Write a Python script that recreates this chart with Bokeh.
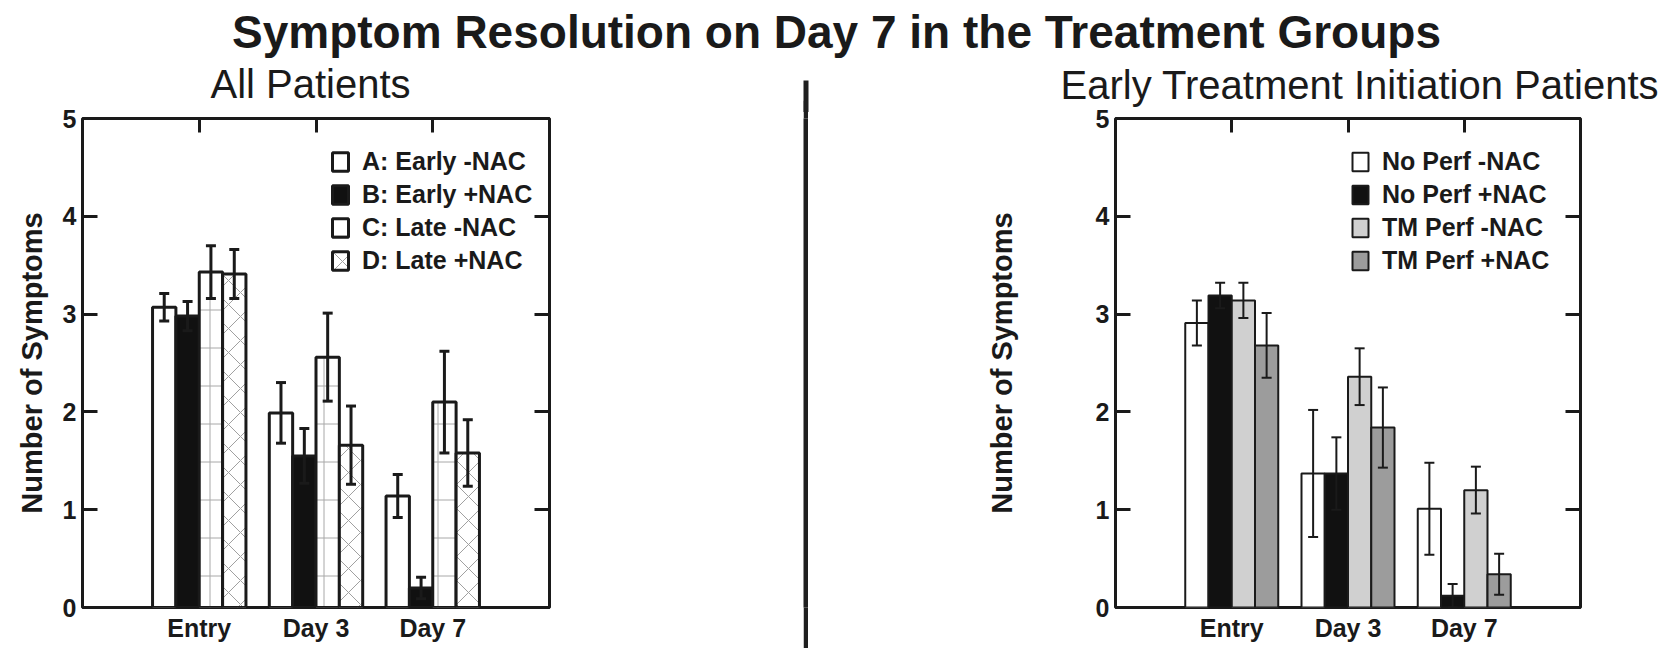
from bokeh.plotting import figure
from bokeh.models import (Range1d, LinearAxis, FixedTicker, Label, Legend, LegendItem,
                          Whisker, TeeHead, ColumnDataSource)
from bokeh.layouts import column, row
from bokeh.embed import file_html
from bokeh.resources import INLINE

# ---------------- data ----------------
TITLE = "Symptom Resolution on Day 7 in the Treatment Groups"
SUBTITLE_LEFT = "All Patients"
SUBTITLE_RIGHT = "Early Treatment Initiation Patients"
Y_LABEL = "Number of Symptoms"
categories = ["Entry", "Day 3", "Day 7"]
y_ticks = [0, 1, 2, 3, 4, 5]

left_series = ["A: Early -NAC", "B: Early +NAC", "C: Late -NAC", "D: Late +NAC"]
left_a = [3.07, 1.99, 1.14]
left_a_err = [0.14, 0.31, 0.22]
left_b = [2.98, 1.55, 0.20]
left_b_err = [0.15, 0.28, 0.11]
left_c = [3.43, 2.56, 2.10]
left_c_err = [0.27, 0.45, 0.52]
left_d = [3.41, 1.66, 1.58]
left_d_err = [0.25, 0.40, 0.34]

right_series = ["No Perf -NAC", "No Perf +NAC", "TM Perf -NAC", "TM Perf +NAC"]
right_a = [2.91, 1.37, 1.01]
right_a_err = [0.23, 0.65, 0.47]
right_b = [3.19, 1.37, 0.12]
right_b_err = [0.13, 0.37, 0.12]
right_c = [3.14, 2.36, 1.20]
right_c_err = [0.18, 0.29, 0.24]
right_d = [2.68, 1.84, 0.34]
right_d_err = [0.33, 0.41, 0.21]

# ---------------- styles / layout ----------------
FONT = "Liberation Sans"
INK = "#1a1a1a"
SEP = "#1f1f1f"
OFFSETS = [-0.3, -0.1, 0.1, 0.3]
BAR_W = 0.2

left_styles = [
    dict(fill_color="white"),
    dict(fill_color="#111111"),
    dict(fill_color="white", hatch_pattern="cross", hatch_color="#a8a8a8",
         hatch_scale=38, hatch_weight=1),
    dict(fill_color="white", hatch_pattern="diagonal_cross", hatch_color="#a0a0a0",
         hatch_scale=24, hatch_weight=1),
]
right_styles = [
    dict(fill_color="white"),
    dict(fill_color="#111111"),
    dict(fill_color="#d0d0d0"),
    dict(fill_color="#9c9c9c"),
]

TOTAL_W = 1672
HEAD_H = 112
OVERLAP = 12
ROW_H = 648 - HEAD_H + OVERLAP
TOP_B = 118 - (HEAD_H - OVERLAP)
BOT_B = 41


def make_panel(width, border_left, border_right, series, means, errs, styles,
               line_w, legend_x, ylabel_standoff):
    p = figure(width=width, height=ROW_H, x_range=Range1d(0, 4), y_range=Range1d(0, 5),
               output_backend="svg", toolbar_location=None, title_location=None,
               min_border_left=border_left, min_border_right=border_right,
               min_border_top=TOP_B, min_border_bottom=BOT_B,
               border_fill_alpha=0, background_fill_color="white")
    p.grid.visible = False
    p.outline_line_color = INK
    p.outline_line_width = 3

    items = []
    for i, (name, vals, err, st) in enumerate(zip(series, means, errs, styles)):
        xs = [j + 1 + OFFSETS[i] for j in range(len(categories))]
        src = ColumnDataSource(dict(
            x=xs, top=vals,
            upper=[v + e for v, e in zip(vals, err)],
            lower=[v - e for v, e in zip(vals, err)],
        ))
        r = p.vbar(x="x", top="top", bottom=0, width=BAR_W, source=src,
                   line_color=INK, line_width=line_w, **st)
        items.append(LegendItem(label=name, renderers=[r]))
        w = Whisker(base="x", upper="upper", lower="lower", source=src, level="overlay",
                    line_color=INK, line_width=line_w,
                    upper_head=TeeHead(size=10, line_color=INK, line_width=line_w),
                    lower_head=TeeHead(size=10, line_color=INK, line_width=line_w))
        p.add_layout(w)

    cat_ticks = [j + 1 for j in range(len(categories))]

    xa = p.xaxis[0]
    xa.ticker = FixedTicker(ticks=cat_ticks)
    xa.major_label_overrides = {t: c for t, c in zip(cat_ticks, categories)}
    xa.major_tick_in = 0
    xa.major_tick_out = 0
    xa.minor_tick_line_color = None
    xa.axis_line_color = None
    xa.major_label_standoff = 6
    xa.major_label_text_font = FONT
    xa.major_label_text_font_style = "bold"
    xa.major_label_text_font_size = "25px"
    xa.major_label_text_color = INK

    ya = p.yaxis[0]
    ya.ticker = FixedTicker(ticks=y_ticks)
    ya.major_tick_in = 15
    ya.major_tick_out = 0
    ya.major_tick_line_width = 3
    ya.major_tick_line_color = INK
    ya.minor_tick_line_color = None
    ya.axis_line_color = None
    ya.major_label_standoff = 6
    ya.major_label_text_font = FONT
    ya.major_label_text_font_style = "bold"
    ya.major_label_text_font_size = "25px"
    ya.major_label_text_color = INK
    ya.axis_label = Y_LABEL
    ya.axis_label_text_font = FONT
    ya.axis_label_text_font_style = "bold"
    ya.axis_label_text_font_size = "29px"
    ya.axis_label_text_color = INK
    ya.axis_label_standoff = ylabel_standoff

    # mirrored tick-only axes on the right and on top
    ra = LinearAxis(ticker=FixedTicker(ticks=y_ticks), major_tick_in=15, major_tick_out=0,
                    major_tick_line_width=3, major_tick_line_color=INK,
                    minor_tick_line_color=None, axis_line_color=None,
                    major_label_standoff=0, major_label_text_font_size="1px",
                    major_label_text_color=None)
    p.add_layout(ra, "right")
    ta = LinearAxis(ticker=FixedTicker(ticks=cat_ticks),
                    major_tick_in=14, major_tick_out=0,
                    major_tick_line_width=3, major_tick_line_color=INK,
                    minor_tick_line_color=None, axis_line_color=None,
                    major_label_standoff=0, major_label_text_font_size="1px",
                    major_label_text_color=None)
    p.add_layout(ta, "above")

    legend = Legend(items=items, location=(legend_x, 332), glyph_width=20, glyph_height=23,
                    label_height=23, spacing=4, padding=0, margin=0, label_standoff=12,
                    border_line_color=None, background_fill_alpha=0,
                    label_text_font=FONT, label_text_font_style="bold",
                    label_text_font_size="25px", label_text_color=INK)
    p.add_layout(legend)
    return p


p1 = make_panel(803, 82, 254, left_series,
                [left_a, left_b, left_c, left_d],
                [left_a_err, left_b_err, left_c_err, left_d_err],
                left_styles, 3, 248, 12)

p2 = make_panel(TOTAL_W - 808, 307, TOTAL_W - 808 - 307 - 465, right_series,
                [right_a, right_b, right_c, right_d],
                [right_a_err, right_b_err, right_c_err, right_d_err],
                right_styles, 2, 235, 75)

# vertical separator line between the two panels (lower part)
divider = figure(width=5, height=ROW_H, x_axis_type=None, y_axis_type=None,
                 x_range=Range1d(0, 1), y_range=Range1d(0, 1),
                 output_backend="svg", toolbar_location=None, title_location=None,
                 min_border=0, background_fill_color=SEP, border_fill_color=SEP,
                 outline_line_color=None)
divider.grid.visible = False

# header: main title, panel titles and the top of the separator line
head = figure(width=TOTAL_W, height=HEAD_H, x_axis_type=None, y_axis_type=None,
              x_range=Range1d(0, TOTAL_W), y_range=Range1d(0, HEAD_H),
              output_backend="svg", toolbar_location=None, title_location=None,
              min_border=0, outline_line_color=None)
head.grid.visible = False
head.quad(left=803, right=808, bottom=0, top=HEAD_H - 80, fill_color=SEP, line_color=None)
head.add_layout(Label(x=836, y=HEAD_H - 31, text=TITLE, text_align="center",
                      text_baseline="alphabetic", text_font=FONT,
                      text_font_style="bold", text_font_size="46px", text_color=INK))
head.add_layout(Label(x=210, y=HEAD_H - 83, text=SUBTITLE_LEFT, text_align="left",
                      text_baseline="alphabetic", text_font=FONT,
                      text_font_size="40px", text_color=INK))
head.add_layout(Label(x=1060, y=HEAD_H - 84, text=SUBTITLE_RIGHT, text_align="left",
                      text_baseline="alphabetic", text_font=FONT,
                      text_font_size="40px", text_color=INK))

body = row(p1, divider, p2, margin=(-OVERLAP, 0, 0, 0))
layout = column(head, body)

with open("out.html", "w") as f:
    f.write(file_html(layout, INLINE))
